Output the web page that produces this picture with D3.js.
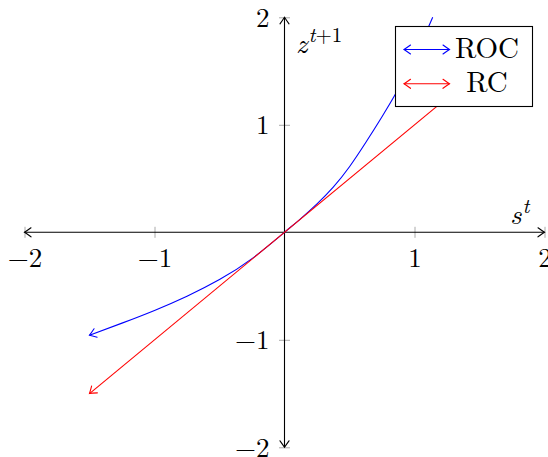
<!DOCTYPE html>
<html><head><meta charset="utf-8">
<script src="https://cdn.jsdelivr.net/npm/d3@7"></script>
<style>
html,body{margin:0;padding:0;background:#fff;}
svg{display:block;}
svg text{font-family:'Latin Modern Roman','CMU Serif',serif;fill:#000;}
</style></head>
<body>
<svg id="chart" width="548" height="457"></svg>
<script>
// ---- data ----
const xTicks = [-2, -1, 1, 2];
const yTicks = [-2, -1, 1, 2];
const rocS = [-1.5, -1.25, -1.0, -0.75, -0.5, -0.25, 0, 0.125, 0.25, 0.375, 0.5, 0.625, 0.75, 0.875, 1.0, 1.14];
const rocZ = [-0.957, -0.845, -0.727, -0.595, -0.44, -0.245, 0, 0.128, 0.265, 0.42, 0.61, 0.835, 1.075, 1.33, 1.62, 2.0];
const rcS = [-1.5, 1.5];
const rcZ = [-1.5, 1.5];
const legendNames = ["ROC", "RC"];
const legendColors = ["#0000ff", "#ff0000"];

const svg = d3.select("#chart");
const x = d3.scaleLinear().domain([-2, 2]).range([24.5, 544.5]);
const y = d3.scaleLinear().domain([-2, 2]).range([447.3, 17.3]);

const defs = svg.append("defs");
function mk(id, color) {
  defs.append("marker").attr("id", id)
    .attr("viewBox", "-10 -6 12 12").attr("refX", 0).attr("refY", 0)
    .attr("markerUnits", "userSpaceOnUse").attr("markerWidth", 12).attr("markerHeight", 12)
    .attr("orient", "auto-start-reverse")
    .append("path").attr("d", "M-6.5,-4.5 Q-2,-1.2 0,0 Q-2,1.2 -6.5,4.5")
    .attr("fill", "none").attr("stroke", color).attr("stroke-width", 1.1)
    .attr("stroke-linecap", "round");
}
mk("arK", "#000"); mk("arB", "#0000ff"); mk("arR", "#ff0000");

const fs = 27;
const fmt = d3.format("d");
// x axis
const gx = svg.append("g").attr("transform", `translate(0,${y(0)})`)
  .call(d3.axisBottom(x).tickValues(xTicks).tickFormat(fmt).tickSizeInner(0).tickSizeOuter(0));
gx.attr("font-family", null).attr("font-size", null);
gx.select(".domain").remove();
gx.selectAll(".tick line").attr("y1", -5.5).attr("y2", 5.5).attr("stroke", "#aaa").attr("stroke-width", 1);
gx.selectAll(".tick text").attr("y", 35).attr("dy", null)
  .style("font-size", fs + "px").attr("fill", "#000");
// y axis
const gy = svg.append("g").attr("transform", `translate(${x(0)},0)`)
  .call(d3.axisLeft(y).tickValues(yTicks).tickFormat(fmt).tickSizeInner(0).tickSizeOuter(0));
gy.attr("font-family", null).attr("font-size", null);
gy.select(".domain").remove();
gy.selectAll(".tick line").attr("x1", -5.5).attr("x2", 5.5).attr("stroke", "#aaa").attr("stroke-width", 1);
gy.selectAll(".tick text").attr("x", -15).attr("dy", "0.33em")
  .style("font-size", fs + "px").attr("fill", "#000");

// axis lines with arrows
svg.append("line").attr("x1", x(-2)).attr("x2", x(2)).attr("y1", y(0)).attr("y2", y(0))
  .attr("stroke", "#000").attr("stroke-width", 1.1)
  .attr("marker-start", "url(#arK)").attr("marker-end", "url(#arK)");
svg.append("line").attr("x1", x(0)).attr("x2", x(0)).attr("y1", y(-2)).attr("y2", y(2))
  .attr("stroke", "#000").attr("stroke-width", 1.1)
  .attr("marker-start", "url(#arK)").attr("marker-end", "url(#arK)");

// axis labels
const zl = svg.append("text").attr("x", 296).attr("y", 52.5).style("font-size", "28px");
zl.append("tspan").text("z").style("font-style", "italic");
zl.append("tspan").attr("dx", 1).attr("dy", -11).style("font-size", "21px").text("t").style("font-style", "italic");
zl.append("tspan").style("font-size", "21px").text("+1");
const sl = svg.append("text").attr("x", 510).attr("y", 224).style("font-size", "28px");
sl.append("tspan").text("s").style("font-style", "italic");
sl.append("tspan").attr("dx", 1).attr("dy", -11).style("font-size", "21px").text("t").style("font-style", "italic");

// curves
const line = d3.line().x(d => x(d[0])).y(d => y(d[1])).curve(d3.curveNatural);
svg.append("path").datum(rocS.map((s, i) => [s, rocZ[i]])).attr("d", line)
  .attr("fill", "none").attr("stroke", legendColors[0]).attr("stroke-width", 1.1)
  .attr("marker-start", "url(#arB)");
svg.append("path").datum(rcS.map((s, i) => [s, rcZ[i]])).attr("d", d3.line().x(d => x(d[0])).y(d => y(d[1])))
  .attr("fill", "none").attr("stroke", legendColors[1]).attr("stroke-width", 1.1)
  .attr("marker-start", "url(#arR)").attr("marker-end", "url(#arR)");

// legend
const lg = svg.append("g");
lg.append("rect").attr("x", 395.5).attr("y", 26.5).attr("width", 137).attr("height", 80)
  .attr("fill", "#fff").attr("stroke", "#000").attr("stroke-width", 1.1);
legendNames.forEach((n, i) => {
  const yy = 49.5 + i * 34.3;
  lg.append("line").attr("x1", 404).attr("x2", 449.5).attr("y1", yy).attr("y2", yy)
    .attr("stroke", legendColors[i]).attr("stroke-width", 1.1)
    .attr("marker-start", `url(#${i === 0 ? "arB" : "arR"})`).attr("marker-end", `url(#${i === 0 ? "arB" : "arR"})`);
  lg.append("text").attr("x", 487).attr("y", yy + 8.5).attr("text-anchor", "middle")
    .style("font-size", "29px").text(n);
});
</script>
</body></html>
